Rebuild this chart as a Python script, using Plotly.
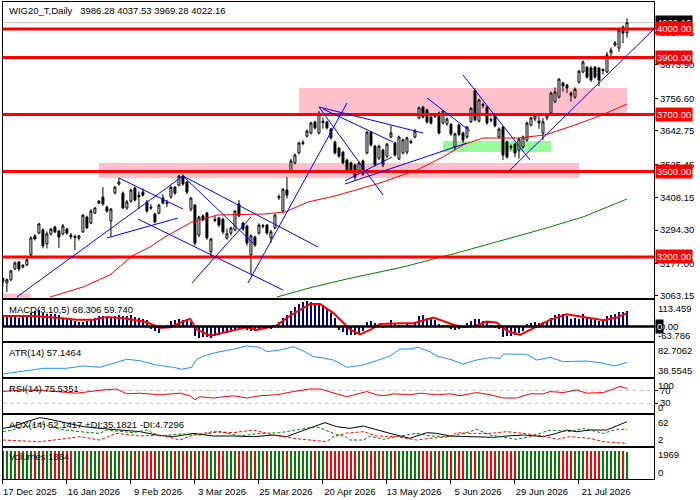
import plotly.graph_objects as go

# ---------------- data ----------------
OPEN = [3125,3109,3120,3158,3182,3165,3172,3207,3274,3284,
        3295,3246,3281,3305,3291,3281,3298,3277,3268,3266,
        3288,3340,3319,3354,3389,3410,3375,3326,3424,3456,
        3424,3372,3396,3442,3410,3428,3393,3375,3351,3354,
        3407,3387,3410,3445,3452,3484,3463,3368,3382,3277,
        3344,3354,3218,3328,3337,3333,3267,3284,3295,3386,
        3319,3309,3207,3270,3284,3307,3312,3267,3302,3408,
        3361,3435,3502,3530,3565,3598,3624,3635,3674,3635,
        3672,3674,3649,3604,3582,3568,3540,3530,3523,3498,
        3537,3565,3638,3589,3547,3575,3554,3621,3600,3544,
        3565,3568,3602,3621,3688,3726,3716,3691,3693,3705,
        3670,3667,3665,3586,3663,3635,3621,3675,3785,3677,
        3731,3726,3683,3695,3621,3656,3604,3588,3596,3575,
        3586,3610,3663,3684,3670,3635,3688,3705,3745,3761,
        3810,3803,3775,3761,3814,3849,3866,3863,3866,3863,
        3854,3849,3916,3944,3933,4007,3986.28]
HIGH = [3128,3125,3155,3185,3186,3175,3195,3272,3280,3320,
        3300,3290,3302,3310,3295,3316,3302,3285,3278,3278,
        3350,3345,3368,3375,3400,3445,3380,3372,3450,3477,
        3430,3400,3440,3447,3430,3440,3400,3385,3356,3386,
        3420,3400,3450,3448,3488,3490,3466,3410,3386,3345,
        3350,3358,3267,3345,3341,3338,3300,3306,3365,3400,
        3323,3313,3280,3275,3318,3316,3316,3295,3352,3420,
        3442,3480,3545,3563,3605,3610,3648,3675,3678,3712,
        3690,3678,3653,3608,3586,3572,3545,3535,3528,3535,
        3542,3642,3642,3593,3594,3580,3600,3660,3605,3626,
        3615,3622,3612,3650,3728,3730,3720,3695,3703,3710,
        3716,3690,3670,3636,3667,3640,3660,3726,3792,3756,
        3742,3730,3690,3700,3655,3660,3608,3595,3600,3618,
        3626,3675,3692,3700,3703,3688,3705,3780,3795,3828,
        3815,3808,3780,3795,3856,3890,3870,3870,3870,3866,
        3862,3920,3935,3958,4000,4012,4037.53]
LOW = [3095,3077,3115,3155,3150,3160,3168,3200,3258,3280,
       3230,3230,3275,3283,3232,3276,3278,3262,3225,3258,
       3285,3298,3315,3350,3385,3380,3355,3270,3420,3450,
       3368,3365,3390,3395,3368,3412,3355,3365,3318,3350,
       3385,3375,3405,3418,3448,3450,3420,3360,3240,3270,
       3325,3260,3196,3322,3305,3280,3260,3275,3290,3340,
       3292,3240,3137,3235,3278,3300,3278,3250,3298,3400,
       3355,3405,3497,3525,3560,3592,3619,3630,3648,3630,
       3650,3648,3612,3560,3548,3525,3500,3492,3470,3492,
       3485,3560,3588,3518,3540,3515,3548,3616,3552,3540,
       3560,3560,3596,3616,3683,3686,3668,3665,3688,3630,
       3665,3660,3625,3575,3625,3600,3615,3670,3676,3672,
       3722,3665,3672,3655,3615,3540,3545,3575,3550,3545,
       3580,3605,3658,3676,3650,3610,3680,3700,3740,3756,
       3780,3775,3745,3755,3808,3845,3826,3815,3826,3800,
       3840,3845,3905,3938,3920,3950,3969.28]
CLOSE = [3115,3120,3151,3179,3158,3170,3190,3267,3263,3316,
         3239,3281,3298,3288,3270,3309,3284,3272,3272,3274,
         3347,3302,3361,3372,3396,3386,3361,3368,3445,3463,
         3372,3393,3435,3400,3417,3417,3361,3372,3323,3382,
         3389,3391,3445,3424,3484,3456,3428,3407,3249,3340,
         3330,3267,3263,3332,3312,3288,3281,3302,3361,3344,
         3298,3249,3274,3242,3312,3310,3284,3288,3347,3412,
         3438,3417,3537,3558,3600,3602,3642,3670,3653,3705,
         3676,3653,3618,3565,3554,3530,3505,3498,3481,3530,
         3491,3638,3593,3523,3589,3523,3596,3635,3558,3621,
         3611,3618,3606,3642,3723,3691,3674,3670,3697,3635,
         3712,3684,3632,3632,3630,3610,3656,3722,3681,3751,
         3735,3670,3680,3660,3649,3558,3551,3585,3565,3614,
         3621,3670,3688,3695,3677,3674,3698,3775,3779,3824,
         3800,3793,3768,3789,3852,3884,3831,3821,3831,3821,
         3858,3909,3926,3951,3996,3986,4022.16]

MACD_HIST = [42,44,45,43,40,42,45,60,70,73,
             60,55,58,55,50,40,35,30,25,22,
             20,25,30,40,45,45,42,38,45,52,
             48,45,50,42,38,35,30,-10,-20,-27,
             -5,5,25,30,32,28,30,20,-40,-50,
             -45,-48,-52,-40,-35,-30,-28,-25,-15,-5,
             -10,-15,-20,-18,-10,-5,-8,-12,5,20,
             40,50,70,85,100,108,112,110,105,100,
             95,80,60,40,-15,-25,-35,-37,-35,-30,
             -20,20,26,15,5,-5,5,28,10,5,
             8,12,5,15,45,52,40,35,30,10,
             5,8,-10,-15,-12,-8,15,25,32,35,
             25,20,5,-5,-10,-45,-42,-40,-38,-30,
             -20,10,15,20,18,22,25,40,50,58,
             55,45,35,40,35,58,40,35,30,25,
             28,45,50,58,65,65,68.306]

VOLUME = [1900,1900,1900,1900,1900,1900,1900,1900,1900,1900,
          1900,1900,1900,1900,1900,1900,1900,1900,1900,1900,
          1900,1900,1900,1900,1900,1900,1900,1900,1900,1900,
          1900,1900,1900,1900,1900,1900,1900,1900,1900,1900,
          1900,1900,1900,1900,1900,1900,1900,1900,1900,1900,
          1900,1900,1900,1900,1900,1900,1900,1900,1900,1900,
          1900,1900,1900,1900,1900,1900,1900,1900,1900,1900,
          1900,1900,1900,1900,1900,1900,1900,1900,1900,1900,
          1900,1900,1900,1900,1900,1900,1900,1900,1900,1900,
          1900,1900,1900,1900,1900,1900,1900,1900,1900,1900,
          1900,1900,1900,1900,1900,1900,1900,1900,1900,1900,
          1900,1900,1900,1900,1900,1900,1900,1900,1900,1900,
          1900,1900,1900,1900,1900,1900,1900,1900,1900,1900,
          1900,1900,1900,1900,1900,1900,1900,1900,1900,1900,
          1900,1900,1900,1900,1900,1900,1900,1900,1900,1900,
          1900,1900,1900,1900,1900,1900,1864]

BARS = list(range(len(CLOSE)))

TICK_IDX = [0, 16, 32, 48, 64, 80, 96, 112, 128, 144]
DATE_LABELS = ["17 Dec 2025", "16 Jan 2026", "9 Feb 2026", "3 Mar 2026", "25 Mar 2026",
               "20 Apr 2026", "13 May 2026", "5 Jun 2026", "29 Jun 2026", "21 Jul 2026"]

MA_RED_X = [11.75,20,26.75,32.25,36.75,40.5,47.25,53.75,65.5,70.5,76.25,83,94.25,103.5,110,115,120,128.75,135.5,143,149.75,156]
MA_RED_Y = [3059.6,3094.7,3136.8,3203.5,3235.1,3270.2,3322.8,3347.4,3350.9,3357.9,3393.0,3414.0,3459.6,3505.3,3550.9,3593.0,3617.5,3617.5,3628.1,3663.2,3698.2,3736.8]
MA_GREEN_X = [68.5,77.5,86,100,112.5,125,135,145,156]
MA_GREEN_Y = [3059.6,3094.7,3122.8,3164.9,3210.5,3259.6,3298.2,3340.4,3403.5]

MACD_SIG_X = [0,7.6,14.25,18.4,22.6,25.9,30.1,35.9,39.25,41.75,46.75,48.4,51.75,57.6,60.9,63.4,68.4,71.75,76.75,79.25,82.6,
              86.75,89.25,91.75,94.25,99.25,102.6,107.6,112.6,115.1,117.6,120.9,123.4,125.9,129.25,132.6,136.75,140.9,145.1,150.1,153.4,156]
MACD_SIG_Y = [47,47,38,30,30,43,37,20,-6,-3,35,-12,-40,-18,-3,-15,5,48,100,100,60,
              -12,-35,-15,12,15,15,40,8,-2,0,22,18,-18,-37,-7,30,55,42,28,40,59.74]

ATR_X = [0,6.75,10.1,15.9,20.1,24.25,27.6,30.9,34.25,38.4,42.6,44.7,47.2,48.4,50.9,54.25,57.6,60.9,64.25,65.9,
         69.25,72.6,75.1,77.6,79.25,82.6,85.9,90.1,93.4,96.75,99.25,101.75,103.8,106.75,108.4,111.75,115.1,118.4,121.75,124.25,
         125.1,130.9,133.4,136.75,140.1,145.9,149.25,153,156]
ATR_Y = [38.6,43.8,47.5,47.5,51.2,49.1,55.4,61.7,59.5,52.7,49.1,46.0,49.1,61.7,68.5,73.7,77.5,82.7,80.6,73.7,
         76.4,81.6,74.8,65.8,64.7,60.6,49.1,52.7,59.5,66.9,78.0,78.0,80.6,73.7,66.9,61.7,54.3,60.6,64.3,63.2,
         70.1,69.6,60.6,64.7,58.0,59.0,56.4,51.2,57.15]

RSI_X = [0,4.25,9.25,14.25,18.4,24.25,28.4,30.9,34.25,39.25,44.25,46.75,48,49.25,52.6,57.6,60.9,64.25,68.4,72.6,
         76.75,79.25,82.6,85.9,90.9,93.4,95.1,97.6,101.75,104.25,108.4,111.75,114.25,118.4,121.75,125.1,128.4,131.75,135.1,136.75,
         140.1,143.4,145.9,150.1,152.6,154.25,156]
RSI_Y = [66,71,70,66,61,70,74,59,61,56,61,53,41,50,46,53,46,53,56,66,
         74,74,61,50,66,56,53,59,56,61,56,59,53,63,56,46,46,59,59,66,
         63,71,61,63,74,82,75.54]

ADX_X = [0,2.6,5.9,9.25,11.75,15.9,20.1,24.25,28.4,34.25,38.4,42.6,47.6,52.6,57.6,62.6,67.6,70.9,74.25,77.6,
         80.5,83.4,86.75,90.1,93.4,96.75,101.75,105.9,108.4,111.75,116.75,122.6,125.9,130.1,135.1,138.4,140.9,143.4,146.75,150.9,
         153.4,156]
ADX_Y = [37.6,41.3,52.2,61.0,57.3,48.6,41.3,37.6,33.9,30.3,23.0,19.3,26.6,20.8,20.8,19.3,23.0,19.3,30.3,41.3,
         50.0,41.3,37.6,42.7,33.9,26.6,15.7,28.1,26.6,20.8,19.3,17.9,20.8,23.0,19.3,26.6,33.9,30.3,33.9,33.9,
         42.7,52.14]
PDI_X = [0,4.25,9.25,14.25,19.25,24.25,25.9,32.6,35.9,39.25,44.25,49.25,54.25,59.25,64.25,69.25,74.25,78.4,82.6,85.9,
         86.75,90.1,91.75,95.1,98.4,103.4,106.75,111.75,116.75,118.4,121.75,128.4,131.75,136.75,141.75,145.1,150.1,153.4,156]
PDI_Y = [30.3,37.6,48.6,35.4,30.3,26.6,33.9,28.1,33.9,20.8,25.2,23.0,30.3,20.8,26.6,28.1,35.4,41.3,26.6,18.0,
         12.0,12.0,20.8,13.5,19.3,26.6,20.8,19.3,30.3,35.4,23.0,13.5,19.3,33.9,30.3,37.6,26.6,35.4,35.18]
MDI_X = [0,4.25,9.25,14.25,19.25,24.25,28.4,34.25,39.25,44.25,47.6,52.6,57.6,62.6,67.6,72.6,77.6,80.9,82.6,85.9,
         90.1,93.4,98.4,103.4,106.75,111.75,113.4,116.75,121.75,125.9,130.1,135.1,138.4,141.75,146.75,150.1,153.4,156]
MDI_Y = [12.0,10.6,8.4,13.5,19.3,12.0,26.6,20.8,23.0,12.0,23.0,30.3,28.1,33.9,23.0,15.7,10.6,8.4,19.3,27.0,
         30.3,20.8,19.3,12.0,15.7,19.3,28.1,26.6,26.6,30.3,26.6,20.8,13.5,19.3,15.7,8.4,6.2,4.73]

LEVELS = [4000, 3900, 3700, 3500, 3200]
LAST_PRICE = 4022.16
PRICE_TICKS = [3063.15, 3177.00, 3294.30, 3408.15, 3525.45, 3642.75, 3756.60, 3873.90, 3987.75]

# trend lines: (bar0, price0, bar1, price1)
TREND_LINES = [
    (3.5, 3059.6, 45, 3484.2), (29, 3477.2, 45, 3368.4), (33.75, 3333.3, 70, 3084.2),
    (26, 3266.7, 43.75, 3336.8), (45, 3484.2, 78.75, 3235.1), (45, 3484.2, 62.5, 3249.1),
    (47.25, 3108.8, 62, 3340.4), (61.25, 3108.8, 86, 3740.4), (79, 3726.3, 95, 3417.5),
    (79, 3726.3, 105, 3635.1), (80, 3719.3, 97.5, 3603.5), (85.5, 3456.1, 116, 3600.0),
    (85.5, 3466.7, 97.25, 3550.9), (106, 3757.9, 116.75, 3642.1), (115, 3838.6, 131.75, 3540.4),
    (126, 3494.7, 162.75, 4000.0),
]
# zones: (bar0, bar1, price_low, price_high, colour)
ZONES = [
    (74, 156, 3705, 3793, "#ffc0cb"),
    (24, 144, 3477, 3530, "#ffc0cb"),
    (-1, 6.9, 3000, 3072, "#ffc0cb"),
    (110, 137, 3568, 3607, "#98fb98"),
]

# ---------------- figure ----------------
FONT = "Liberation Sans, Arial, sans-serif"
FS = 9.5
XR = [-0.1, 162.75]
DX = [2.5 / 700, 654 / 700]

fig = go.Figure()
fig.add_trace(go.Candlestick(
    x=BARS, open=OPEN, high=HIGH, low=LOW, close=CLOSE,
    increasing=dict(line=dict(color="black", width=1), fillcolor="white"),
    decreasing=dict(line=dict(color="black", width=1), fillcolor="black"),
    whiskerwidth=0, xaxis="x", yaxis="y", showlegend=False, hoverinfo="skip"))
fig.add_trace(go.Scatter(x=MA_RED_X, y=MA_RED_Y, mode="lines", line=dict(color="#ff0000", width=1),
                         xaxis="x", yaxis="y", showlegend=False, hoverinfo="skip"))
fig.add_trace(go.Scatter(x=MA_GREEN_X, y=MA_GREEN_Y, mode="lines", line=dict(color="#008000", width=1),
                         xaxis="x", yaxis="y", showlegend=False, hoverinfo="skip"))

fig.add_trace(go.Bar(x=BARS, y=MACD_HIST, marker=dict(color="#000080", line=dict(width=0)), width=0.7,
                     xaxis="x2", yaxis="y2", showlegend=False, hoverinfo="skip"))
fig.add_trace(go.Scatter(x=MACD_SIG_X, y=MACD_SIG_Y, mode="lines", line=dict(color="#ff0000", width=2),
                         xaxis="x2", yaxis="y2", showlegend=False, hoverinfo="skip"))

fig.add_trace(go.Scatter(x=ATR_X, y=ATR_Y, mode="lines", line=dict(color="#1e90ff", width=1),
                         xaxis="x3", yaxis="y3", showlegend=False, hoverinfo="skip"))

fig.add_trace(go.Scatter(x=RSI_X, y=RSI_Y, mode="lines", line=dict(color="#ff0000", width=1),
                         xaxis="x4", yaxis="y4", showlegend=False, hoverinfo="skip"))

fig.add_trace(go.Scatter(x=ADX_X, y=ADX_Y, mode="lines", line=dict(color="black", width=1),
                         xaxis="x5", yaxis="y5", showlegend=False, hoverinfo="skip"))
fig.add_trace(go.Scatter(x=PDI_X, y=PDI_Y, mode="lines", line=dict(color="#008000", width=1, dash="3px,2px"),
                         xaxis="x5", yaxis="y5", showlegend=False, hoverinfo="skip"))
fig.add_trace(go.Scatter(x=MDI_X, y=MDI_Y, mode="lines", line=dict(color="#ff0000", width=1, dash="3px,2px"),
                         xaxis="x5", yaxis="y5", showlegend=False, hoverinfo="skip"))

vol_colors = ["#008000" if c >= o else "#ff0000" for o, c in zip(OPEN, CLOSE)]
fig.add_trace(go.Bar(x=BARS, y=VOLUME, marker=dict(color=vol_colors, line=dict(width=0)), width=0.3,
                     xaxis="x6", yaxis="y6", showlegend=False, hoverinfo="skip"))

# shapes
shapes = []
for b0, b1, p0, p1, col in ZONES:
    shapes.append(dict(type="rect", xref="x", yref="y", x0=b0, x1=b1, y0=p0, y1=p1,
                       fillcolor=col, line=dict(width=0), layer="below"))
shapes.append(dict(type="line", xref="x domain", yref="y", x0=0, x1=1, y0=LAST_PRICE, y1=LAST_PRICE,
                   line=dict(color="#c0c0c0", width=1), layer="below"))
for lv in LEVELS:
    shapes.append(dict(type="line", xref="x domain", yref="y", x0=0, x1=1, y0=lv, y1=lv,
                       line=dict(color="#ff0000", width=3), layer="above"))
for b0, p0, b1, p1 in TREND_LINES:
    shapes.append(dict(type="line", xref="x", yref="y", x0=b0, y0=p0, x1=b1, y1=p1,
                       line=dict(color="#0000ff", width=1), layer="above"))
shapes.append(dict(type="line", xref="x2 domain", yref="y2", x0=0, x1=1, y0=0, y1=0,
                   line=dict(color="black", width=2.5), layer="above"))
for lv in (70, 30):
    shapes.append(dict(type="line", xref="x4 domain", yref="y4", x0=0, x1=1, y0=lv, y1=lv,
                       line=dict(color="#c0c0c0", width=1, dash="4px,3px"), layer="below"))

# annotations
ann = []
def lab(text, ypix):
    ann.append(dict(text=text, xref="paper", yref="paper", x=7 / 700, y=1 - ypix / 500,
                    xanchor="left", yanchor="middle", showarrow=False,
                    font=dict(family=FONT, size=FS, color="black")))
lab("WIG20_T,Daily\u00a0\u00a0 3986.28 4037.53 3969.28 4022.16", 10)
lab("MACD(3,10,5) 68.306 59.740", 309)
lab("ATR(14) 57.1464", 352)
lab("RSI(14) 75.5351", 388)
lab("ADX(14) 52.1417 +DI:35.1821 -DI:4.7296", 424)
lab("Volumes 1864", 456)

# scale labels of the indicator windows (nudged inside their windows, as the terminal does)
def side(text, ypix):
    ann.append(dict(text=text, xref="paper", yref="paper", x=656 / 700, y=1 - ypix / 500,
                    xanchor="left", yanchor="middle", showarrow=False, borderpad=1,
                    font=dict(family=FONT, size=FS, color="black")))
side("113.459", 308)
side("-63.786", 335)
side("82.7062", 350)
side("38.5545", 370)
side("100", 385)
side("0", 407)
side("62", 422)
side("2", 439)
side("1969", 454)
side("0", 472)

# current price box first, so the 4000.00 level box sits on top of it
ann.append(dict(text=f"{LAST_PRICE:.2f}", xref="paper", yref="y", x=655 / 700, y=LAST_PRICE, xanchor="left",
                yanchor="middle", showarrow=False, bgcolor="black", borderpad=1,
                font=dict(family=FONT, size=FS, color="white")))
for lv in LEVELS:
    ann.append(dict(text=f"{lv:.2f}", xref="paper", yref="y", x=655 / 700, y=lv, xanchor="left",
                    yanchor="middle", showarrow=False, bgcolor="#ff0000", borderpad=1,
                    font=dict(family=FONT, size=FS, color="white")))
ann.append(dict(text="0", xref="paper", yref="y2", x=655 / 700, y=0, xanchor="left",
                yanchor="middle", showarrow=False, bgcolor="black", borderpad=1,
                font=dict(family=FONT, size=FS, color="white")))


def xa(anchor, labels=False):
    d = dict(domain=DX, range=XR, anchor=anchor, showline=True, mirror=True, linecolor="black",
             linewidth=1, showgrid=False, zeroline=False, fixedrange=True, automargin=False,
             showticklabels=False, ticks="")
    if labels:
        d.update(tickmode="array", tickvals=TICK_IDX, ticktext=DATE_LABELS, ticks="outside",
                 ticklen=4, tickcolor="black", showticklabels=True, ticklabelshift=27,
                 tickfont=dict(family=FONT, size=FS, color="black"))
    return d


def ya(anchor, dom, rng, tv, tt):
    return dict(domain=dom, range=rng, anchor=anchor, side="right", showline=True, mirror=True,
                linecolor="black", linewidth=1, showgrid=False, zeroline=False, automargin=False,
                tickmode="array", tickvals=tv, ticktext=tt, ticks="outside", ticklen=3,
                tickcolor="black", fixedrange=True,
                tickfont=dict(family=FONT, size=FS, color="black"))


main_x = xa("y")
main_x["rangeslider"] = dict(visible=False)

fig.update_layout(
    width=700, height=500, autosize=False, template="none",
    margin=dict(l=0, r=0, t=0, b=0, pad=0),
    paper_bgcolor="white", plot_bgcolor="white",
    font=dict(family=FONT, size=FS, color="black"),
    showlegend=False, bargap=0,
    xaxis=main_x, xaxis2=xa("y2"), xaxis3=xa("y3"), xaxis4=xa("y4"), xaxis5=xa("y5"),
    xaxis6=xa("y6", labels=True),
    yaxis=ya("x", [0.404, 0.996], [3056.1, 4094.7], PRICE_TICKS, [f"{v:.2f}" for v in PRICE_TICKS]),
    yaxis2=ya("x2", [0.318, 0.400], [-63.8, 117.8], [0], ["0.00"]),
    yaxis3=ya("x3", [0.246, 0.314], [33.8, 87.4], [], []),
    yaxis4=ya("x4", [0.174, 0.242], [-0.5, 105], [70, 30], ["70", "30"]),
    yaxis5=ya("x5", [0.108, 0.170], [-1.08, 66.8], [], []),
    yaxis6=ya("x6", [0.042, 0.104], [-5, 2110], [], []),
    shapes=shapes, annotations=ann,
)

fig.write_html("out.html", config={"displayModeBar": False, "staticPlot": True},
               post_script="document.body.style.margin='0';document.body.style.overflow='hidden';")
